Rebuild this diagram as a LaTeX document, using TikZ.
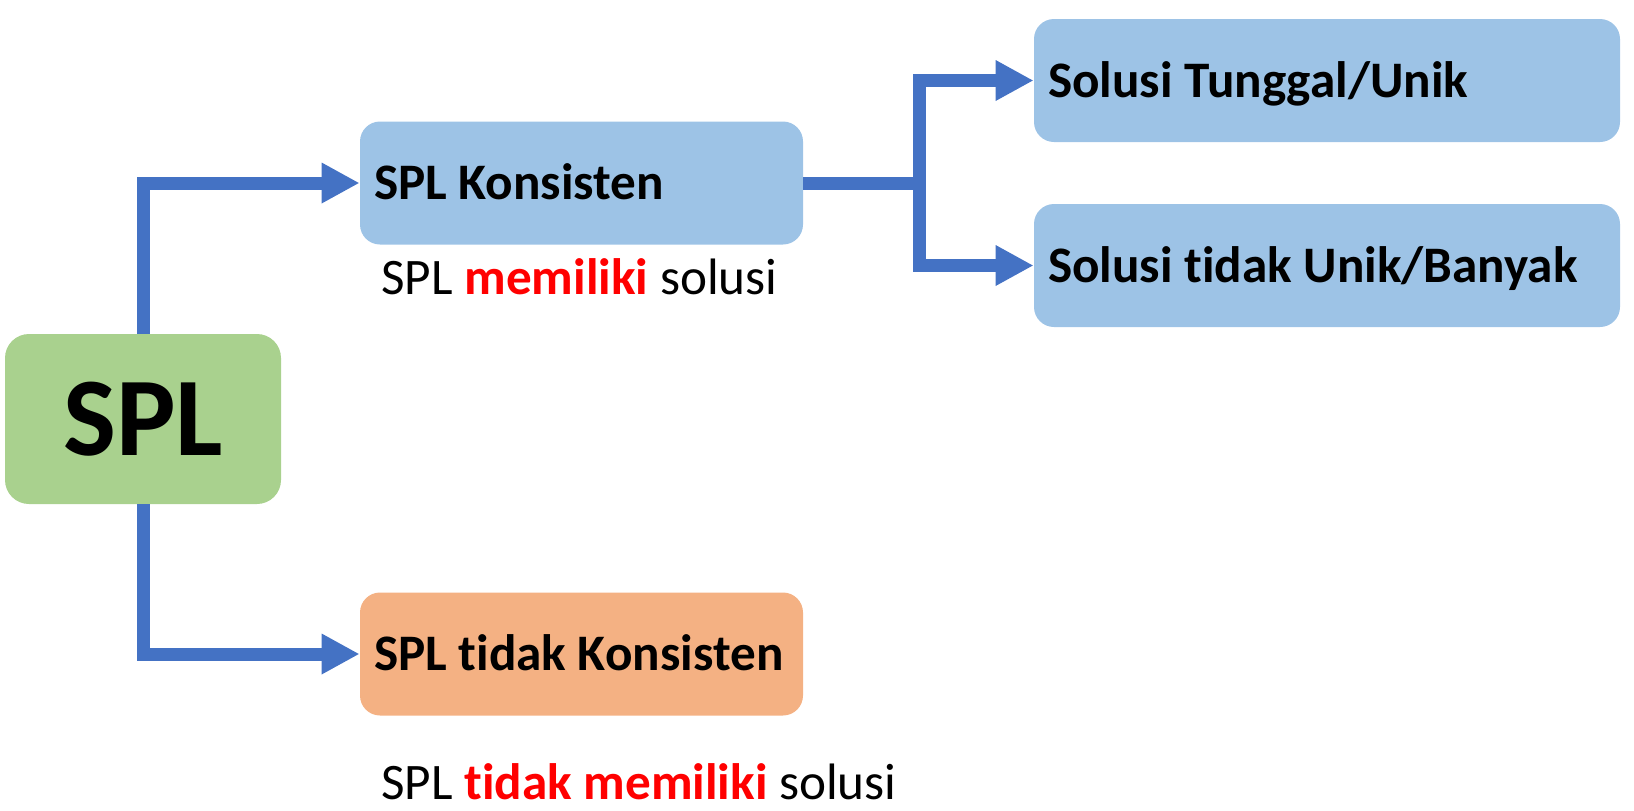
\documentclass[tikz,border=0pt]{standalone}
\usepackage{fontspec}
\setmainfont{Carlito}[Ligatures=NoCommon]
\usetikzlibrary{arrows.meta}
\definecolor{hijau}{HTML}{A9D18E}
\definecolor{biru}{HTML}{9DC3E6}
\definecolor{oranye}{HTML}{F4B183}
\definecolor{panah}{HTML}{4472C4}
\newcommand{\merah}[1]{\textbf{\textcolor{red}{#1}}}
\newcommand{\isi}[2]{\makebox[#1][l]{#2}}
\begin{document}
\begin{tikzpicture}[x=0.5pt, y=-0.5pt, >={Triangle[length=19pt,width=19pt]},
  kotak/.style={rounded corners=10pt, inner xsep=7pt, minimum height=61.5pt,
    text height=16.5pt, text depth=0pt,
    font=\fontsize{25.6}{30}\selectfont\bfseries},
  garis/.style={draw=panah, line width=6.5pt},
  ket/.style={anchor=base west, inner sep=0pt, font=\fontsize{25.6}{30}\selectfont}]
\useasboundingbox (0,0) rectangle (1634,810);
%
\node[kotak, fill=hijau, rounded corners=12pt, minimum width=138pt, minimum height=85pt,
  text height=36pt, font=\fontsize{56}{60}\selectfont\bfseries] (spl) at (143,419) {SPL};
%
\node[kotak, fill=biru] (kons) at (581.5,183) {\isi{207.5pt}{SPL Konsisten}};
\node[kotak, fill=oranye] (tkons) at (581.5,654) {\isi{207.5pt}{SPL tidak Konsisten}};
\node[kotak, fill=biru] (unik) at (1327,80.5) {\isi{279pt}{Solusi Tunggal/Unik}};
\node[kotak, fill=biru] (banyak) at (1327,265.5) {\isi{279pt}{Solusi tidak Unik/Banyak}};
%
\node[ket] (ket1) at (381,294) {SPL \merah{memiliki} solusi};
\node[ket] (ket2) at (381,799) {SPL \merah{tidak memiliki} solusi};
%
\draw[garis,->] (spl.north) |- (kons.west);
\draw[garis,->] (spl.south) |- (tkons.west);
%
\coordinate (cabang) at (919,183);
\draw[garis] (kons.east) -- ([xshift=3.25pt]cabang);
\draw[garis,->] (cabang) |- (unik.west);
\draw[garis,->] (cabang) |- (banyak.west);
%
\end{tikzpicture}
\end{document}
